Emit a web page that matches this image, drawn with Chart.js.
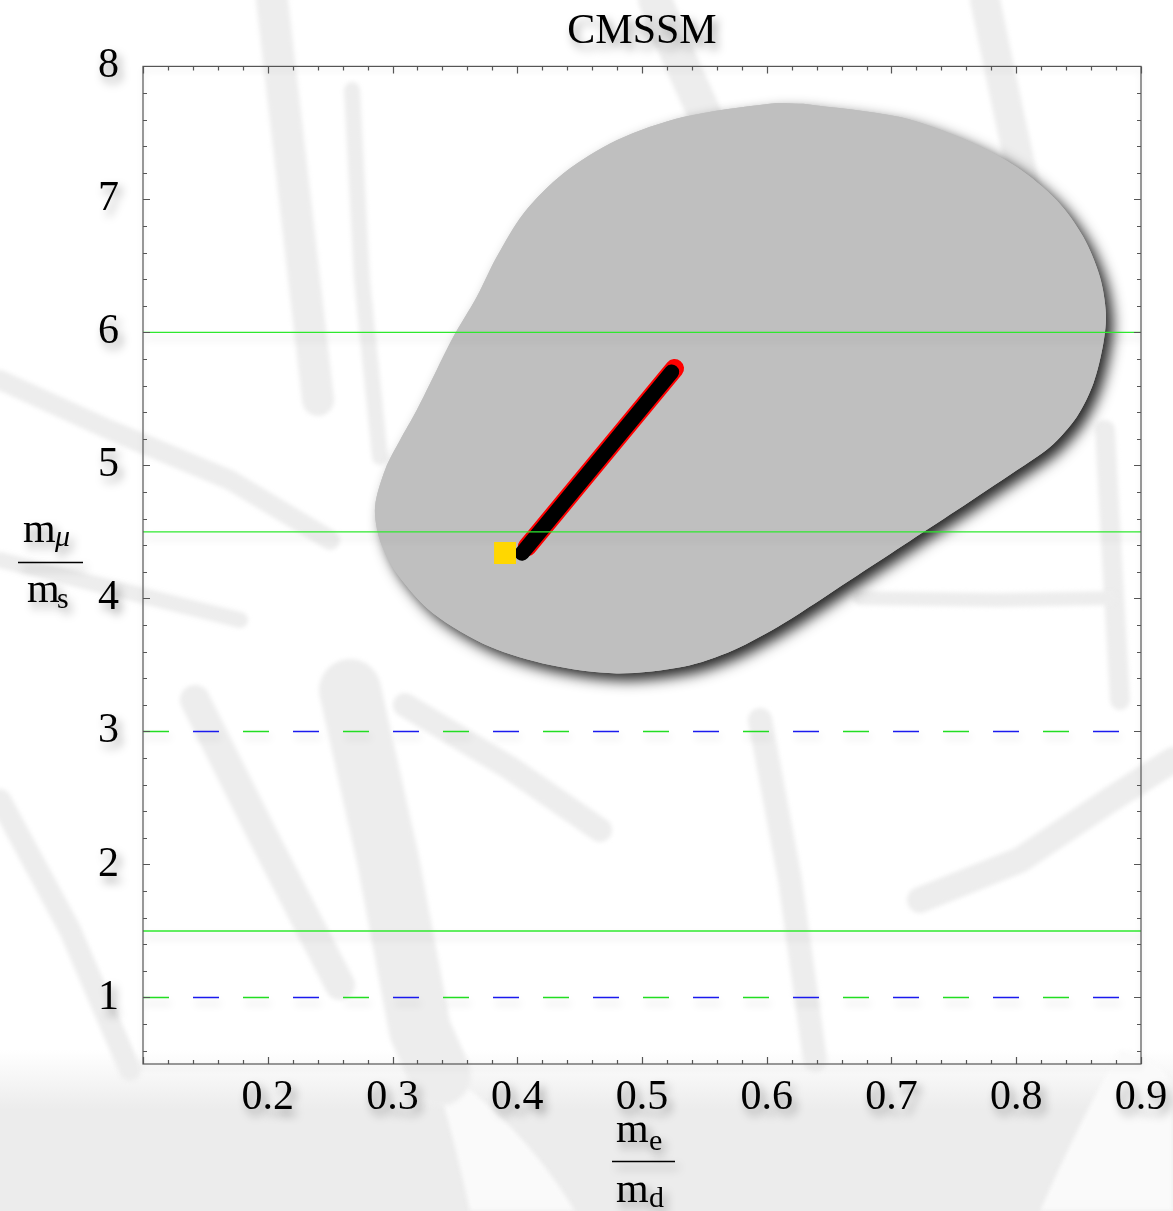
<!DOCTYPE html>
<html>
<head>
<meta charset="utf-8">
<title>CMSSM</title>
<style>
  html, body { margin: 0; padding: 0; background: #ffffff; }
  canvas { display: block; }
</style>
<script src="https://cdn.jsdelivr.net/npm/chart.js@4.4.1/dist/chart.umd.min.js"></script>
</head>
<body>
<canvas id="chart" width="1173" height="1211"></canvas>
<script>
// ---- axes ----
const xRange = [0.1, 0.9];
const yRange = [0.5, 8];
const xTickValues = [0.2, 0.3, 0.4, 0.5, 0.6, 0.7, 0.8, 0.9];
const xTickLabels = ['0.2', '0.3', '0.4', '0.5', '0.6', '0.7', '0.8', '0.9'];
const yTickValues = [1, 2, 3, 4, 5, 6, 7, 8];
const yTickLabels = ['1', '2', '3', '4', '5', '6', '7', '8'];

// ---- allowed parameter region (closed outline, m_e/m_d vs m_mu/m_s) ----
const regionX = [0.6293, 0.7068, 0.7603, 0.8004, 0.8324, 0.8538, 0.8671, 0.8719, 0.8698, 0.8618,
                 0.8485, 0.8271, 0.8004, 0.7523, 0.7095, 0.6667, 0.6133, 0.5732, 0.5331, 0.4797,
                 0.4263, 0.3782, 0.3327, 0.3034, 0.2900, 0.2860, 0.2944, 0.3060, 0.3194, 0.3340,
                 0.3487, 0.3675, 0.3835, 0.4049, 0.4369, 0.4797, 0.5331, 0.6026, 0.6293];
const regionY = [7.720, 7.619, 7.444, 7.243, 6.993, 6.717, 6.417, 6.142, 5.916, 5.616,
                 5.365, 5.139, 4.964, 4.663, 4.400, 4.137, 3.812, 3.611, 3.486, 3.436,
                 3.499, 3.636, 3.887, 4.188, 4.438, 4.688, 4.975, 5.189, 5.415, 5.690,
                 5.966, 6.266, 6.567, 6.893, 7.194, 7.444, 7.619, 7.720, 7.720];

// ---- reference ratios ----
const solidBounds = [6, 4.5, 1.5];
const dashedBounds = [3, 1];

// ---- CMSSM trajectory ----
const trackX = [0.4038, 0.5238];
const trackY = [4.340, 5.703];
const edgeX = [0.4079, 0.5261];
const edgeY = [4.387, 5.729];
const startX = [0.3902];
const startY = [4.342];

const SERIF = "'Liberation Serif', 'Times New Roman', 'DejaVu Serif', serif";

const toPoints = (xs, ys) => xs.map((x, i) => ({ x, y: ys[i] }));
const hLine = y => [{ x: xRange[0], y }, { x: xRange[1], y }];

// faint branch pattern behind the figure
const backdropStrokes = [
  { w: 32, p: [[272, 0], [295, 200], [318, 400]] },
  { w: 16, p: [[352, 90], [362, 280], [380, 457]] },
  { w: 34, p: [[655, 0], [680, 60], [705, 115]] },
  { w: 30, p: [[985, 0], [1008, 110], [1030, 210], [1050, 300]] },
  { w: 20, p: [[0, 380], [110, 430], [230, 480], [330, 540]] },
  { w: 16, p: [[0, 560], [120, 590], [240, 620]] },
  { w: 30, p: [[195, 700], [265, 840], [340, 985]] },
  { w: 62, p: [[350, 690], [388, 860], [420, 1030], [440, 1075]] },
  { w: 24, p: [[405, 705], [510, 768], [600, 830]] },
  { w: 20, p: [[1105, 430], [1112, 560], [1120, 700]] },
  { w: 14, p: [[860, 598], [1000, 600], [1110, 598]] },
  { w: 22, p: [[0, 800], [70, 930], [130, 1070]] },
  { w: 24, p: [[760, 720], [790, 880], [815, 1060]] },
  { w: 26, p: [[920, 900], [1020, 860], [1110, 800], [1173, 760]] }
];

const backdrop = {
  id: 'backdrop',
  beforeDraw(chart) {
    const ctx = chart.ctx;
    ctx.save();
    ctx.fillStyle = '#ffffff';
    ctx.fillRect(0, 0, chart.width, chart.height);
    const g = ctx.createLinearGradient(0, 1050, 0, 1110);
    g.addColorStop(0, 'rgba(236,236,236,0)');
    g.addColorStop(1, 'rgba(236,236,236,1)');
    ctx.fillStyle = g;
    ctx.fillRect(0, 1050, chart.width, chart.height - 1050);
    ctx.filter = 'blur(2px)';
    ctx.fillStyle = '#fafafa';
    ctx.beginPath();
    ctx.moveTo(430, 1060); ctx.quadraticCurveTo(520, 1120, 575, 1211); ctx.lineTo(470, 1211);
    ctx.quadraticCurveTo(450, 1120, 430, 1060); ctx.fill();
    ctx.beginPath();
    ctx.moveTo(1120, 1050); ctx.quadraticCurveTo(1173, 1060, 1173, 1100); ctx.lineTo(1173, 1211);
    ctx.lineTo(1040, 1211); ctx.quadraticCurveTo(1080, 1120, 1120, 1050); ctx.fill();
    ctx.strokeStyle = '#ededed';
    ctx.lineCap = 'round';
    ctx.lineJoin = 'round';
    for (const s of backdropStrokes) {
      ctx.lineWidth = s.w;
      ctx.beginPath();
      s.p.forEach(([px, py], i) => (i ? ctx.lineTo(px, py) : ctx.moveTo(px, py)));
      ctx.stroke();
    }
    ctx.filter = 'none';
    ctx.restore();
    // soft drop shadow for the axis text drawn by the scales and title
    ctx.shadowColor = 'rgba(0,0,0,0.38)';
    ctx.shadowBlur = 10;
    ctx.shadowOffsetX = 4;
    ctx.shadowOffsetY = 6;
  },
  beforeDatasetsDraw(chart) {
    const ctx = chart.ctx;
    ctx.shadowColor = 'rgba(0,0,0,0)';
    ctx.shadowBlur = 0;
    ctx.shadowOffsetX = 0;
    ctx.shadowOffsetY = 0;
    // cast shadow of the allowed region
    chart.data.datasets.forEach((ds, i) => {
      if (!ds.castShadow) return;
      const line = chart.getDatasetMeta(i).dataset;
      if (!line) return;
      ctx.save();
      ctx.shadowColor = 'rgba(0,0,0,0.85)';
      ctx.shadowBlur = 14;
      ctx.shadowOffsetX = 7;
      ctx.shadowOffsetY = 7;
      ctx.fillStyle = ds.backgroundColor;
      ctx.beginPath();
      line.path(ctx);
      ctx.closePath();
      ctx.fill();
      ctx.restore();
    });
  },
  beforeDatasetDraw(chart, args) {
    const ds = chart.data.datasets[args.index];
    if (!ds.softShadow) return;
    const ctx = chart.ctx;
    ctx.save();
    ctx.shadowColor = 'rgba(0,0,0,0.2)';
    ctx.shadowBlur = 8;
    ctx.shadowOffsetX = 2;
    ctx.shadowOffsetY = 6;
  },
  afterDatasetDraw(chart, args) {
    const ds = chart.data.datasets[args.index];
    if (!ds.softShadow) return;
    chart.ctx.restore();
  },
  afterDatasetsDraw(chart) {
    const ctx = chart.ctx;
    const { left, right, top, bottom } = chart.chartArea;
    const xs = chart.scales.x, ys = chart.scales.y;
    ctx.save();
    ctx.strokeStyle = '#555555';
    ctx.lineWidth = 1.2;
    ctx.shadowColor = 'rgba(0,0,0,0.12)';
    ctx.shadowBlur = 6;
    ctx.shadowOffsetY = 4;
    ctx.strokeRect(left, top, right - left, bottom - top);
    ctx.shadowColor = 'rgba(0,0,0,0)';
    ctx.beginPath();
    // x ticks every 0.02, major every 0.1, on bottom and top edges
    for (let i = 5; i <= 45; i++) {
      const px = Math.round(xs.getPixelForValue(i / 50)) + 0.5;
      const len = i % 5 === 0 ? 7 : 4;
      ctx.moveTo(px, bottom); ctx.lineTo(px, bottom - len);
      ctx.moveTo(px, top); ctx.lineTo(px, top + len);
    }
    // y ticks every 0.2, major every 1, on left and right edges
    for (let i = 3; i <= 40; i++) {
      const py = Math.round(ys.getPixelForValue(i / 5)) + 0.5;
      const len = i % 5 === 0 ? 7 : 4;
      ctx.moveTo(left, py); ctx.lineTo(left + len, py);
      ctx.moveTo(right, py); ctx.lineTo(right - len, py);
    }
    ctx.stroke();
    ctx.restore();
  },
  afterDraw(chart) {
    const ctx = chart.ctx;
    const { left, right, top, bottom } = chart.chartArea;
    ctx.save();
    ctx.shadowColor = 'rgba(0,0,0,0.38)';
    ctx.shadowBlur = 10;
    ctx.shadowOffsetX = 4;
    ctx.shadowOffsetY = 6;
    ctx.fillStyle = '#000';
    ctx.strokeStyle = '#000';
    ctx.textBaseline = 'alphabetic';
    ctx.textAlign = 'left';
    const big = '42px ' + SERIF, small = '30px ' + SERIF, smallIt = 'italic 30px ' + SERIF;

    // vertical axis title: m_mu / m_s
    const by = Math.round((top + bottom) / 2) - 3;
    ctx.font = big;   ctx.fillText('m', 23, by - 20);
    ctx.font = smallIt; ctx.fillText('\u03bc', 55, by - 16);
    ctx.font = big;   ctx.fillText('m', 27, by + 40);
    ctx.font = small; ctx.fillText('s', 57, by + 46);
    ctx.lineWidth = 1.6;
    ctx.beginPath(); ctx.moveTo(18, by + 0.5); ctx.lineTo(83, by + 0.5); ctx.stroke();

    // horizontal axis title: m_e / m_d
    const cx = (left + right) / 2;
    const bx = bottom + 97;
    ctx.font = big;   ctx.fillText('m', cx - 26, bx - 19);
    ctx.font = small; ctx.fillText('e', cx + 7, bx - 11);
    ctx.font = big;   ctx.fillText('m', cx - 26, bx + 41);
    ctx.font = small; ctx.fillText('d', cx + 7, bx + 46);
    ctx.beginPath(); ctx.moveTo(cx - 30, bx + 0.5); ctx.lineTo(cx + 33, bx + 0.5); ctx.stroke();
    ctx.restore();
  }
};

const datasets = [];
datasets.push({
  label: 'start', data: toPoints(startX, startY), order: 1,
  pointStyle: 'rect', pointRadius: 15.5, pointHoverRadius: 15.5,
  backgroundColor: '#ffd700', borderWidth: 0, showLine: false
});
solidBounds.forEach(v => datasets.push({
  label: 'bound ' + v, data: hLine(v), order: 2, showLine: true, softShadow: true,
  borderColor: '#2ee82e', borderWidth: 1.3, pointRadius: 0, fill: false
}));
dashedBounds.forEach(v => {
  datasets.push({
    label: 'bound ' + v + ' a', data: hLine(v), order: 2, showLine: true, softShadow: true,
    borderColor: '#22dd22', borderWidth: 1.4, borderDash: [26, 74], borderDashOffset: 0,
    pointRadius: 0, fill: false
  });
  datasets.push({
    label: 'bound ' + v + ' b', data: hLine(v), order: 2, showLine: true, softShadow: true,
    borderColor: '#1a1aee', borderWidth: 1.4, borderDash: [26, 74], borderDashOffset: 50,
    pointRadius: 0, fill: false
  });
});
datasets.push({
  label: 'trajectory', data: toPoints(trackX, trackY), order: 3, showLine: true,
  borderColor: '#000000', borderWidth: 15, borderCapStyle: 'round', pointRadius: 0, fill: false
});
datasets.push({
  label: 'trajectory edge', data: toPoints(edgeX, edgeY), order: 4, showLine: true,
  borderColor: '#ff0000', borderWidth: 19, borderCapStyle: 'round', pointRadius: 0, fill: false
});
datasets.push({
  label: 'region', data: toPoints(regionX, regionY), order: 10, showLine: true, castShadow: true,
  backgroundColor: '#bfbfbf', borderColor: 'rgba(0,0,0,0)', borderWidth: 0,
  pointRadius: 0, tension: 0.3, fill: 'shape'
});

new Chart(document.getElementById('chart'), {
  type: 'scatter',
  data: { datasets },
  plugins: [backdrop],
  options: {
    responsive: false,
    animation: false,
    devicePixelRatio: 1,
    layout: { padding: { top: 0, right: 32, bottom: 0, left: 0 } },
    plugins: {
      legend: { display: false },
      tooltip: { enabled: false },
      title: {
        display: true, text: 'CMSSM', fullSize: false, color: '#000',
        font: { family: SERIF, size: 42, weight: 'normal', lineHeight: 1.2 },
        padding: { top: 7, bottom: 9 }
      }
    },
    scales: {
      x: {
        type: 'linear', min: xRange[0], max: xRange[1],
        grid: { display: false }, border: { display: false },
        ticks: {
          color: '#000', padding: 1, maxRotation: 0, autoSkip: false,
          font: { family: SERIF, size: 42, lineHeight: 1.2 },
          callback: (v, i) => xTickLabels[i]
        },
        afterBuildTicks: s => { s.ticks = xTickValues.map(v => ({ value: v })); },
        afterFit: s => { s.height = 147; }
      },
      y: {
        type: 'linear', min: yRange[0], max: yRange[1],
        grid: { display: false }, border: { display: false },
        ticks: {
          color: '#000', padding: 16, autoSkip: false,
          font: { family: SERIF, size: 42, lineHeight: 1.2 },
          callback: (v, i) => yTickLabels[i]
        },
        afterBuildTicks: s => { s.ticks = yTickValues.map(v => ({ value: v })); },
        afterFit: s => { s.width = 143; }
      }
    }
  }
});
</script>
</body>
</html>
